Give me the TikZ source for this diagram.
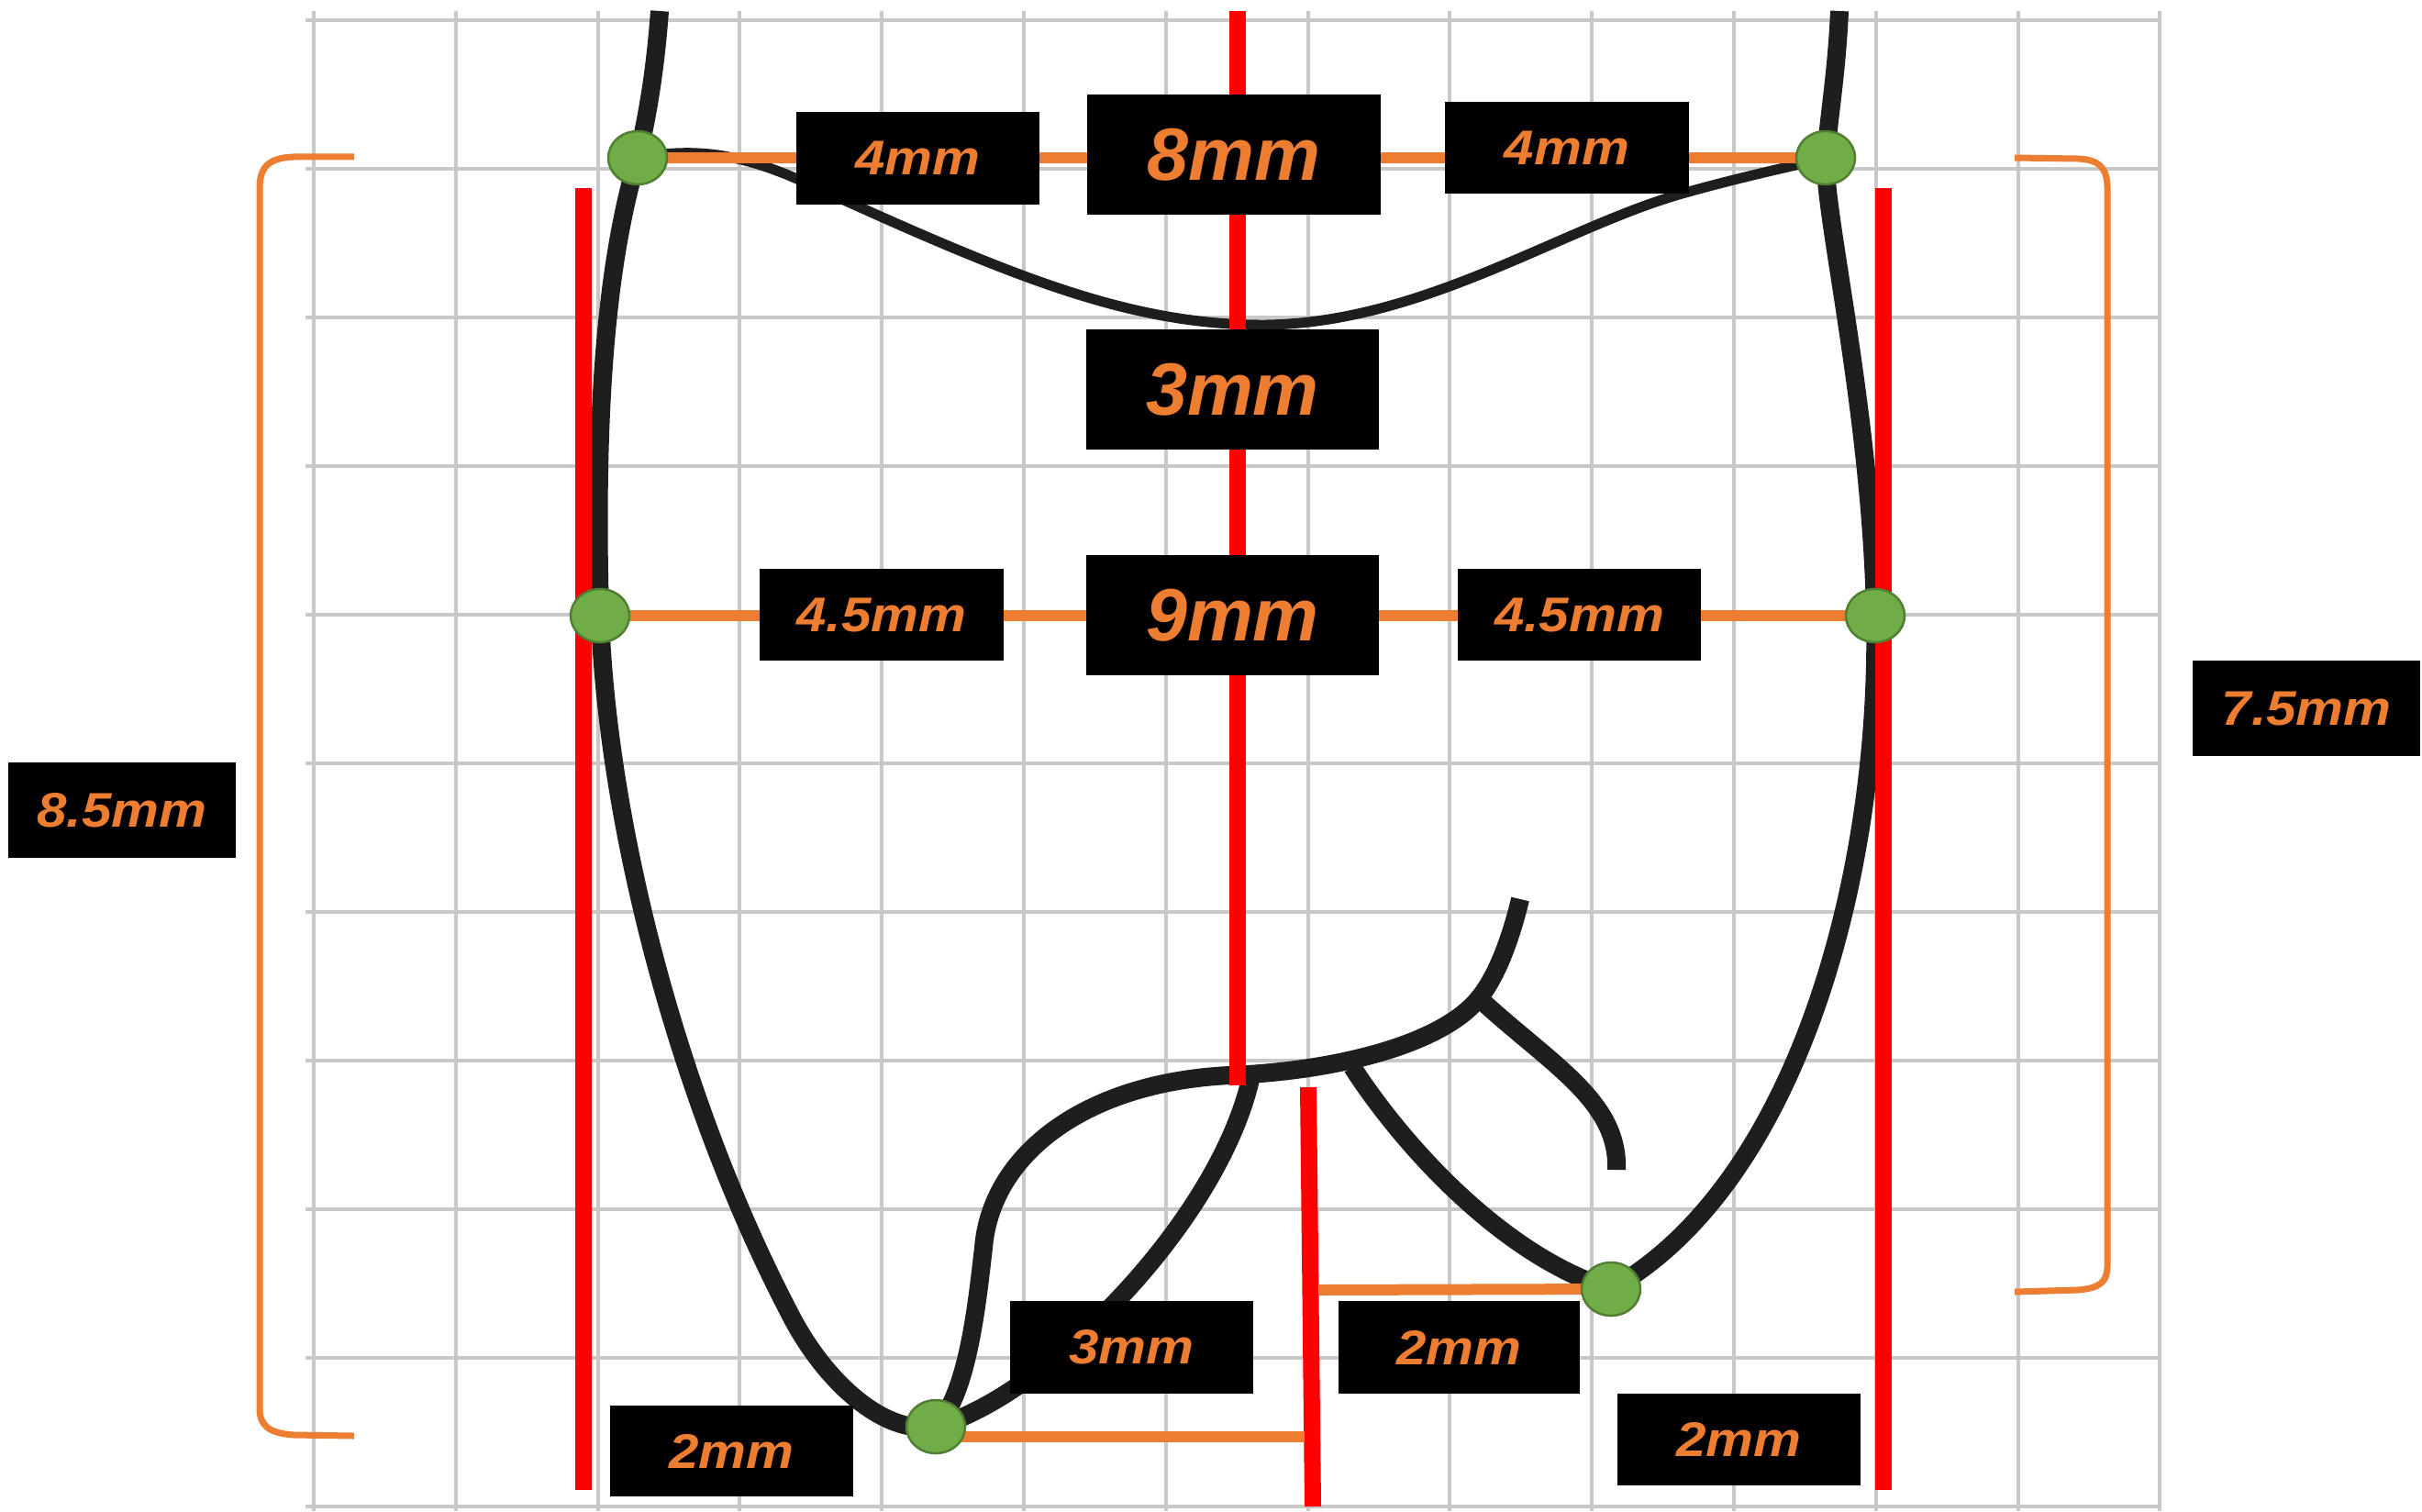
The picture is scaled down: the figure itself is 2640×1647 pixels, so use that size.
\documentclass[tikz,border=0pt]{standalone}
\usepackage{fontspec}
\setmainfont{Liberation Sans}
\usetikzlibrary{shapes.geometric}
\definecolor{gridgray}{HTML}{C8C8C8}
\definecolor{redl}{HTML}{FF0000}
\definecolor{orangel}{HTML}{ED7D31}
\definecolor{dotgreen}{HTML}{70AD47}
\definecolor{dotedge}{HTML}{507E32}
\definecolor{ink}{HTML}{1E1E1E}
\newcommand\wtxt[1]{\scalebox{1.1}[1]{#1}}
\begin{document}
\begin{tikzpicture}[x=0.1mm,y=-0.1mm,
 gridline/.style={draw=gridgray,line width=0.4mm},
 outline/.style={draw=ink,line width=2.0mm},
 thinout/.style={draw=ink,line width=1.1mm},
 redline/.style={draw=redl,line width=1.8mm},
 dimline/.style={draw=orangel,line width=1.2mm},
 bracket/.style={draw=orangel,line width=0.7mm},
 dot/.style={ellipse,fill=dotgreen,draw=dotedge,line width=0.25mm,minimum width=6.4mm,minimum height=5.8mm,inner sep=0pt},
 lab/.style={fill=black,text=orangel,inner sep=0pt,font=\fontsize{15.1pt}{15.1pt}\selectfont\bfseries\itshape},
 biglab/.style={fill=black,text=orangel,inner sep=0pt,font=\fontsize{23pt}{23pt}\selectfont\bfseries\itshape},
]
\useasboundingbox[fill=white] (0,0) rectangle (2640,1647);

% grid
\foreach \k in {0,...,13} \draw[gridline] ({342+154.8*\k},12) -- ({342+154.8*\k},1647);
\foreach \k in {0,...,10} \draw[gridline] (333,{22+162*\k}) -- (2356,{22+162*\k});

% key points
\coordinate (ptl) at (695,172);
\coordinate (ptr) at (1990,172);
\coordinate (pml) at (654,671);
\coordinate (pmr) at (2044,671);
\coordinate (pbl) at (1020,1555);
\coordinate (pbr) at (1756,1405);
\coordinate (pfork) at (1612,1088);
\coordinate (pa1) at (1364,1172);
\coordinate (pa2) at (1474,1163);

% tooth outline
\draw[outline] (719,12) .. controls (714,80) and (705,130) .. (ptl)
  .. controls (660,290) and (648,450) .. (pml)
  .. controls (662,900) and (740,1200) .. (860,1430)
  .. controls (895,1500) and (960,1565) .. (pbl);
\draw[outline] (2005,12) .. controls (2002,80) and (1993,130) .. (ptr)
  .. controls (1987,230) and (2040,450) .. (pmr)
  .. controls (2050,950) and (1960,1290) .. (pbr);
\draw[outline] (pbl) .. controls (1055,1520) and (1065,1420) .. (1072,1360)
  .. controls (1080,1260) and (1180,1180) .. (1340,1172)
  .. controls (1450,1168) and (1570,1140) .. (pfork)
  .. controls (1635,1060) and (1650,1010) .. (1657,980);
\draw[outline] (pbl) .. controls (1140,1522) and (1330,1330) .. (pa1);
\draw[outline] (pa2) .. controls (1530,1250) and (1640,1370) .. (pbr);
\draw[outline] (pfork) .. controls (1690,1160) and (1765,1200) .. (1762,1275);
\draw[thinout] (ptl) .. controls (760,160) and (810,168) .. (880,200)
  .. controls (1100,300) and (1230,355) .. (1380,354)
  .. controls (1550,352) and (1700,250) .. (1830,212)
  .. controls (1900,192) and (1960,180) .. (ptr);

% red reference lines
\coordinate (rc1) at (1349,12);   \coordinate (rc2) at (1349,1183);
\coordinate (rl1) at (636,205);   \coordinate (rl2) at (636,1624);
\coordinate (rr1) at (2053,205);  \coordinate (rr2) at (2053,1624);
\coordinate (rs1) at (1426,1185); \coordinate (rs2) at (1431,1642);
\draw[redline] (rc1) -- (rc2);
\draw[redline] (rl1) -- (rl2);
\draw[redline] (rr1) -- (rr2);
\draw[redline] (rs1) -- (rs2);

% orange dimension lines
\coordinate (obl1) at (1020,1566); \coordinate (obl2) at (1422,1566);
\coordinate (obr1) at (1438,1406);
\draw[dimline] (ptl) -- (ptr);
\draw[dimline] (pml) -- (pmr);
\draw[dimline] (obl1) -- (obl2);
\draw[dimline] (obr1) -- (pbr);

% brackets
\draw[bracket] (386,171) -- (320,171) .. controls (292,172) and (283,183) .. (283,205) -- (283,1535) .. controls (283,1553) and (292,1562) .. (320,1564) -- (386,1565);
\draw[bracket] (2196,172) -- (2265,173) .. controls (2289,174) and (2297,184) .. (2297,205) -- (2297,1380) .. controls (2297,1397) and (2289,1404) .. (2265,1406) -- (2196,1408);

% green points
\node[dot] (dtl) at (ptl) {};
\node[dot] (dtr) at (ptr) {};
\node[dot] (dml) at (pml) {};
\node[dot] (dmr) at (pmr) {};
\node[dot] (dbl) at (pbl) {};
\node[dot] (dbr) at (pbr) {};

% labels
\node[lab,minimum width=26.5mm,minimum height=10.1mm] (b4l) at (1000.5,172.5) {\wtxt{4mm}};
\node[biglab,minimum width=32mm,minimum height=13.1mm] (b8) at (1345,168.5) {8mm};
\node[lab,minimum width=26.6mm,minimum height=10mm] (b4r) at (1708,161) {\wtxt{4mm}};
\node[biglab,minimum width=31.9mm,minimum height=13.1mm] (b3t) at (1343.5,424.5) {3mm};
\node[lab,minimum width=26.6mm,minimum height=10mm] (b45l) at (961,670) {\wtxt{4.5mm}};
\node[biglab,minimum width=31.9mm,minimum height=13.1mm] (b9) at (1343.5,670.5) {9mm};
\node[lab,minimum width=26.5mm,minimum height=10mm] (b45r) at (1721.5,670) {\wtxt{4.5mm}};
\node[lab,minimum width=24.8mm,minimum height=10.4mm] (b85) at (133,883) {\wtxt{8.5mm}};
\node[lab,minimum width=24.8mm,minimum height=10.4mm] (b75) at (2514,772) {\wtxt{7.5mm}};
\node[lab,minimum width=26.5mm,minimum height=10.1mm] (b3b) at (1233.5,1468.5) {\wtxt{3mm}};
\node[lab,minimum width=26.5mm,minimum height=9.9mm] (b2bl) at (797.5,1581.5) {\wtxt{2mm}};
\node[lab,minimum width=26.3mm,minimum height=10.1mm] (b2m) at (1590.5,1468.5) {\wtxt{2mm}};
\node[lab,minimum width=26.5mm,minimum height=10mm] (b2br) at (1895.5,1569) {\wtxt{2mm}};
\end{tikzpicture}
\end{document}
